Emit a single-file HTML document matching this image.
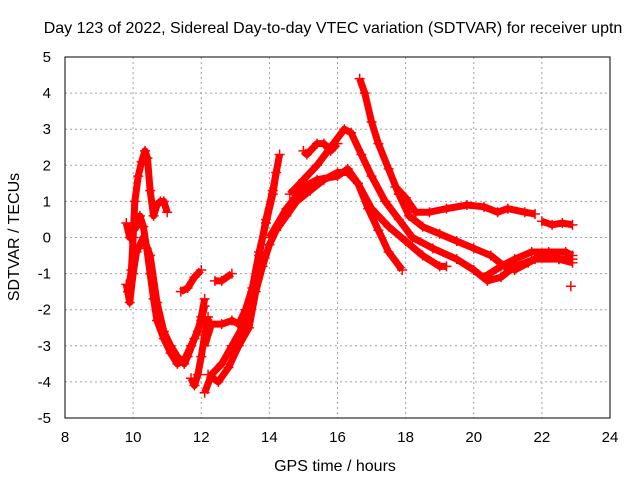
<!DOCTYPE html>
<html><head><meta charset="utf-8"><style>
body{margin:0;background:#fff}
svg{display:block;font-family:"Liberation Sans",sans-serif}
</style></head><body>
<svg id="chart" width="640" height="480">
<text x="333" y="33" font-size="16" text-anchor="middle">Day 123 of 2022, Sidereal Day-to-day VTEC variation (SDTVAR) for receiver uptn</text>
<text x="335" y="471" font-size="16" text-anchor="middle">GPS time / hours</text>
<text x="19" y="237" font-size="16" text-anchor="middle" transform="rotate(-90 19 237)">SDTVAR / TECUs</text>
<g id="grid"></g><g id="ticks"></g><g id="series"></g>
<rect x="65" y="57" width="545" height="361" fill="none" stroke="#000"/>
</svg>
<script>
const xTicks=[8,10,12,14,16,18,20,22,24];
const yTicks=[-5,-4,-3,-2,-1,0,1,2,3,4,5];
const trackA=[[9.85,-1.5],[9.95,-0.9],[10.0,0],[10.05,1.0],[10.15,1.7],[10.25,2.1],[10.35,2.4],[10.42,2.2],[10.5,1.3],[10.6,0.6],[10.7,0.9],[10.8,1.0],[10.9,1.0],[11.0,0.7]];
const trackB=[[9.8,0.4],[9.9,0.0],[10.0,0.2],[10.1,0.3],[10.2,0.6],[10.3,0.3],[10.4,-0.3],[10.5,-1.0],[10.6,-1.7],[10.7,-2.3],[10.9,-2.8],[11.1,-3.2],[11.3,-3.5],[11.5,-3.4],[11.7,-3.0],[11.9,-2.6],[12.0,-2.2],[12.1,-1.7]];
const trackC=[[9.8,-1.3],[9.9,-1.8],[10.0,-1.0],[10.1,-0.4],[10.3,0.0],[10.5,-0.5],[10.7,-1.8],[10.9,-2.6],[11.1,-3.0],[11.3,-3.3],[11.5,-3.5],[11.6,-3.3],[11.8,-2.8],[12.0,-2.3],[12.1,-1.9]];
const trackS=[[11.4,-1.5],[11.6,-1.4],[11.8,-1.1],[12.0,-0.9]];
const trackT=[[11.7,-3.9],[11.8,-4.1],[11.9,-3.8],[12.0,-3.3],[12.1,-2.7],[12.2,-2.2]];
const trackD=[[12.1,-4.3],[12.3,-3.8],[12.6,-3.5],[12.9,-3.0],[13.2,-2.5],[13.5,-1.5],[13.7,-0.5],[13.9,0.5],[14.1,1.3],[14.3,2.3]];
const trackD2=[[12.4,-1.2],[12.6,-1.2],[12.9,-1.0]];
const trackD3=[[12.1,-3.0],[12.3,-2.4],[12.6,-2.4],[12.9,-2.3],[13.1,-2.4],[13.3,-2.0],[13.5,-1.4],[13.7,-0.4],[13.9,0.4],[14.1,1.2],[14.2,1.8]];
const trackE=[[12.2,-3.8],[12.5,-4.0],[12.8,-3.6],[13.1,-3.0],[13.4,-2.5],[13.6,-1.5],[13.8,-0.8],[14.0,-0.2],[14.2,0.2],[14.5,0.6],[14.8,1.0],[15.2,1.3],[15.6,1.6],[16.0,1.8],[16.3,1.8],[16.6,1.5],[16.9,0.8],[17.2,0.2],[17.5,-0.4],[17.9,-0.9]];
const trackF=[[14.0,0.0],[14.5,0.8],[15.0,1.4],[15.4,1.6],[16.0,1.7],[16.3,1.9],[16.6,1.5],[17.0,0.8],[17.5,0.3],[18.0,-0.1],[18.5,-0.5],[19.0,-0.8],[19.2,-0.8]];
const trackG=[[14.6,1.2],[15.0,1.6],[15.4,2.0],[15.8,2.5],[16.2,3.0],[16.4,2.9],[16.7,2.3],[17.0,1.7],[17.4,1.0],[17.8,0.5],[18.2,0.0],[18.8,-0.3],[19.5,-0.6],[20.0,-0.9],[20.4,-1.2],[20.8,-1.1],[21.2,-0.8],[21.8,-0.6],[22.5,-0.6],[22.9,-0.6]];
const trackH=[[16.65,4.4],[16.8,4.0],[17.0,3.2],[17.2,2.6],[17.5,1.9],[17.8,1.2],[18.1,0.6],[18.5,0.3],[19.0,0.1],[19.5,-0.1],[20.0,-0.3],[20.5,-0.5],[20.9,-0.8],[21.2,-0.9],[21.6,-0.7],[22.0,-0.5],[22.5,-0.6],[22.9,-0.7]];
const trackI=[[15.0,2.4],[15.1,2.3],[15.4,2.6],[15.6,2.6],[15.8,2.4],[16.0,2.6]];
const trackJ=[[17.7,1.4],[18.0,1.1],[18.3,0.7],[18.7,0.7],[19.2,0.8],[19.8,0.9],[20.3,0.85],[20.7,0.7],[21.0,0.8],[21.5,0.7],[21.8,0.65]];
const trackJ2=[[22.0,0.45],[22.3,0.35],[22.6,0.4],[22.9,0.35]];
const trackK=[[20.3,-1.1],[20.8,-0.8],[21.2,-0.6],[21.7,-0.4],[22.2,-0.4],[22.7,-0.4],[22.9,-0.5]];
const trackL=[[22.85,-1.35]];
const tracks=[trackA,trackB,trackC,trackS,trackT,trackD,trackD2,trackD3,trackE,trackF,trackG,trackH,trackI,trackJ,trackJ2,trackK,trackL];

const NS="http://www.w3.org/2000/svg";
const X0=65,X1=610,Y0=418,Y1=57;
function xs(v){return X0+(v-8)/16*(X1-X0);}
function ys(v){return Y0-(v+5)/10*(Y0-Y1);}
function mk(tag,attrs,parent){const e=document.createElementNS(NS,tag);for(const k in attrs)e.setAttribute(k,attrs[k]);parent.appendChild(e);return e;}
const grid=document.getElementById('grid'),ticks=document.getElementById('ticks'),ser=document.getElementById('series');
xTicks.forEach(t=>{
  const x=xs(t);
  if(t>8&&t<24){const l=mk('line',{x1:x,x2:x,y1:Y1,y2:Y0,stroke:'#a0a0a0','stroke-dasharray':'2,3'},grid);
  
  }
  const tx=mk('text',{x:x,y:Y0+24,'font-size':15,'text-anchor':'middle'},ticks);tx.textContent=t;
  
  
});
yTicks.forEach(t=>{
  const y=ys(t);
  if(t>-5&&t<5){const l=mk('line',{x1:X0,x2:X1,y1:y,y2:y,stroke:'#a0a0a0','stroke-dasharray':'2,3'},grid);
  
  }
  const tx=mk('text',{x:X0-14,y:y+5,'font-size':15,'text-anchor':'end'},ticks);tx.textContent=t;
  
  
});
tracks.forEach(tr=>{
  const g=mk('g',{},ser);
  
  
  if(tr.length>1){mk('polyline',{points:tr.map(p=>xs(p[0])+','+ys(p[1])).join(' '),fill:'none',stroke:'#f00','stroke-width':7,'stroke-linejoin':'round'},g);}
  tr.forEach(p=>{
    const x=xs(p[0]),y=ys(p[1]);
    const m=mk('path',{d:`M${x-5},${y}h10M${x},${y-5}v10`,stroke:'#f00','stroke-width':1.5},g);
    
    
  });
});
</script>
</body></html>
